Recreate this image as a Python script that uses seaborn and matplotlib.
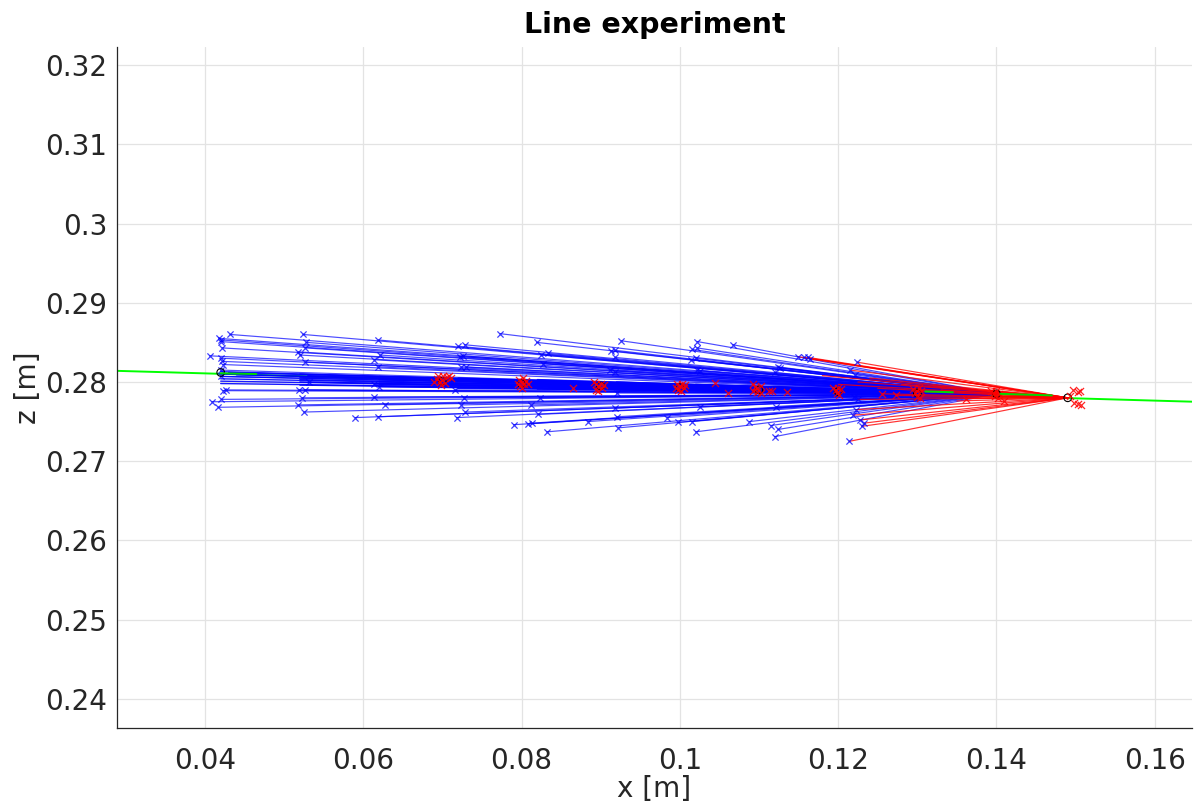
import numpy as np
import pandas as pd
import matplotlib
matplotlib.use("Agg")
import matplotlib.pyplot as plt
import seaborn as sns

# ---------------- data ----------------
# reference line (green)
line_x = [0.029, 0.165]
line_z = [0.2814, 0.2775]

# blue start points (x marker), each joined to the blue end point
blue_start_x = [0.0432, 0.0418, 0.0421, 0.0420, 0.0422, 0.0406, 0.0420, 0.0422, 0.0423, 0.0420, 0.0421, 0.0423, 0.0427, 0.0421, 0.0409, 0.0417,
                0.0524, 0.0528, 0.0527, 0.0518, 0.0520, 0.0527, 0.0531, 0.0519, 0.0526, 0.0523, 0.0518, 0.0525,
                0.0619, 0.0621, 0.0614, 0.0619, 0.0614, 0.0620, 0.0614, 0.0628, 0.0619, 0.0590,
                0.0720, 0.0728, 0.0722, 0.0726, 0.0724, 0.0730, 0.0716, 0.0727, 0.0724, 0.0729, 0.0718,
                0.0773, 0.0819, 0.0825, 0.0834, 0.0827, 0.0823, 0.0812, 0.0821, 0.0790, 0.0808, 0.0813, 0.0832,
                0.0926, 0.0913, 0.0918, 0.0918, 0.0912, 0.0918, 0.0920, 0.0918, 0.0920, 0.0884, 0.0922,
                0.1022, 0.1067, 0.1016, 0.1022, 0.1014, 0.1020, 0.1022, 0.1026, 0.1026, 0.0984, 0.0998, 0.1016, 0.1020, 0.1088,
                0.1124, 0.1120, 0.1126, 0.1122, 0.1124, 0.1120, 0.1115, 0.1221, 0.1220]
blue_start_z = [0.2860, 0.2855, 0.2853, 0.2851, 0.2843, 0.2833, 0.2830, 0.2826, 0.2822, 0.2815, 0.2807, 0.2789, 0.2790, 0.2778, 0.2775, 0.2768,
                0.2860, 0.2850, 0.2843, 0.2838, 0.2834, 0.2825, 0.2800, 0.2790, 0.2790, 0.2780, 0.2771, 0.2762,
                0.2853, 0.2834, 0.2828, 0.2819, 0.2797, 0.2794, 0.2781, 0.2771, 0.2756, 0.2755,
                0.2845, 0.2847, 0.2832, 0.2833, 0.2819, 0.2819, 0.2790, 0.2780, 0.2771, 0.2762, 0.2755,
                0.2861, 0.2850, 0.2834, 0.2836, 0.2823, 0.2780, 0.2771, 0.2759, 0.2746, 0.2747, 0.2748, 0.2737,
                0.2852, 0.2839, 0.2840, 0.2831, 0.2815, 0.2812, 0.2786, 0.2767, 0.2756, 0.2750, 0.2742,
                0.2851, 0.2847, 0.2841, 0.2843, 0.2828, 0.2830, 0.2815, 0.2814, 0.2769, 0.2755, 0.2749, 0.2750, 0.2737, 0.2750,
                0.2819, 0.2812, 0.2818, 0.2769, 0.2740, 0.2731, 0.2745, 0.2809, 0.2781]

# blue start points lying near the reference line (dense core bundle)
core_start_x = [0.042, 0.042, 0.042, 0.042, 0.042, 0.042, 0.043, 0.044,
                0.052, 0.052, 0.052, 0.052, 0.052, 0.053,
                0.062, 0.062, 0.062, 0.062, 0.062,
                0.072, 0.072, 0.072, 0.072, 0.072,
                0.082, 0.082, 0.082, 0.082,
                0.092, 0.092, 0.092, 0.092,
                0.102, 0.102, 0.102,
                0.112, 0.112, 0.112,
                0.122, 0.122]
core_start_z = [0.2813, 0.2810, 0.2807, 0.2804, 0.2801, 0.2798, 0.2812, 0.2809,
                0.2810, 0.2806, 0.2803, 0.2800, 0.2796, 0.2808,
                0.2807, 0.2803, 0.2800, 0.2797, 0.2794,
                0.2805, 0.2801, 0.2798, 0.2795, 0.2792,
                0.2803, 0.2799, 0.2795, 0.2791,
                0.2800, 0.2796, 0.2793, 0.2790,
                0.2797, 0.2793, 0.2789,
                0.2794, 0.2791, 0.2788,
                0.2791, 0.2788]
blue_end = (0.1400, 0.2785)

# red segments (start points are blue markers, end point shared)
red_start_x = [0.1149, 0.1157, 0.1162, 0.1165, 0.1224, 0.1222, 0.1219, 0.1228, 0.1233, 0.1214,
               0.1215, 0.1225, 0.1230,
               0.1225, 0.1240, 0.1256, 0.1273, 0.1300, 0.1304, 0.1320, 0.1395, 0.1400, 0.1360,
               0.1180, 0.1200, 0.1250, 0.1280, 0.1330, 0.1350]
red_start_z = [0.2832, 0.2831, 0.2831, 0.2829, 0.2825, 0.2765, 0.2758, 0.2752, 0.2748, 0.2725,
               0.2815, 0.2778, 0.2744,
               0.2800, 0.2805, 0.2785, 0.2783, 0.2788, 0.2781, 0.2795, 0.2786, 0.2782, 0.2779,
               0.2808, 0.2797, 0.2792, 0.2797, 0.2790, 0.2776]
red_marked = 13  # first red starts carry a blue start marker
red_end = (0.1490, 0.2780)

# red end markers (clusters around each waypoint)
red_pts_x = [0.0693, 0.0697, 0.0700, 0.0703, 0.0706, 0.0709, 0.0698, 0.0690, 0.0701, 0.0711, 0.0695,
             0.0797, 0.0800, 0.0803, 0.0795, 0.0802, 0.0806, 0.0801, 0.0798, 0.0808,
             0.0891, 0.0894, 0.0897, 0.0900, 0.0904, 0.0894, 0.0896, 0.0902, 0.0865,
             0.0997, 0.1000, 0.1003, 0.0995, 0.1005, 0.1001, 0.0998, 0.1007, 0.1044,
             0.1092, 0.1095, 0.1098, 0.1102, 0.1093, 0.1097, 0.1103, 0.1061, 0.1117,
             0.1194, 0.1197, 0.1200, 0.1203, 0.1198, 0.1201, 0.1135, 0.1113,
             0.1295, 0.1299, 0.1302, 0.1305, 0.1297, 0.1300, 0.1304, 0.1256, 0.1273,
             0.1393, 0.1397, 0.1400, 0.1403, 0.1398, 0.1402, 0.1362, 0.1409,
             0.1497, 0.1503, 0.1505, 0.1498, 0.1503, 0.1507, 0.1493]
red_pts_z = [0.2804, 0.2800, 0.2803, 0.2799, 0.2806, 0.2808, 0.2796, 0.2800, 0.2808, 0.2805, 0.2808,
             0.2803, 0.2800, 0.2797, 0.2798, 0.2805, 0.2801, 0.2793, 0.2795, 0.2797,
             0.2800, 0.2797, 0.2795, 0.2798, 0.2796, 0.2790, 0.2788, 0.2792, 0.2792,
             0.2798, 0.2795, 0.2797, 0.2793, 0.2792, 0.2789, 0.2790, 0.2796, 0.2799,
             0.2797, 0.2794, 0.2792, 0.2795, 0.2788, 0.2787, 0.2786, 0.2786, 0.2789,
             0.2792, 0.2790, 0.2793, 0.2791, 0.2786, 0.2784, 0.2787, 0.2788,
             0.2791, 0.2788, 0.2792, 0.2789, 0.2786, 0.2781, 0.2780, 0.2785, 0.2783,
             0.2789, 0.2786, 0.2788, 0.2785, 0.2782, 0.2780, 0.2779, 0.2776,
             0.2790, 0.2787, 0.2789, 0.2774, 0.2772, 0.2771, 0.2782]

# waypoints (black circles)
wp_x = [0.042, 0.070, 0.080, 0.090, 0.100, 0.110, 0.120, 0.130, 0.140, 0.149]
wp_z = [0.2812, 0.2801, 0.2798, 0.2795, 0.2793, 0.2790, 0.2788, 0.2786, 0.2785, 0.2780]

# green overlay pieces drawn on top
green_top_x = [[0.0420, 0.0465], [0.1310, 0.1345], [0.1405, 0.1470]]
green_top_z = [[0.2811, 0.2810], [0.2788, 0.2787], [0.2785, 0.2783]]

xticks = [0.04, 0.06, 0.08, 0.10, 0.12, 0.14, 0.16]
xtick_labels = ["0.04", "0.06", "0.08", "0.1", "0.12", "0.14", "0.16"]
yticks = [0.24, 0.25, 0.26, 0.27, 0.28, 0.29, 0.30, 0.31, 0.32]
ytick_labels = ["0.24", "0.25", "0.26", "0.27", "0.28", "0.29", "0.3", "0.31", "0.32"]


def segments(xs, zs, end):
    rows = []
    for i, (x0, z0) in enumerate(zip(xs, zs)):
        rows.append({"seg": i, "order": 0, "x": x0, "z": z0})
        rows.append({"seg": i, "order": 1, "x": end[0], "z": end[1]})
    return pd.DataFrame(rows)


sns.set_theme(style="whitegrid")
plt.rcParams["font.family"] = ["DejaVu Sans"]

fig = plt.figure(figsize=(11.99, 8.08), dpi=100)
ax = fig.add_axes([117 / 1199, 1 - 728 / 808, (1192 - 117) / 1199, (728 - 47) / 808])

# green reference line
sns.lineplot(x=line_x, y=line_z, ax=ax, color=(0, 1, 0), lw=1.4, zorder=1, legend=False)

# blue segments
df_core = segments(core_start_x, core_start_z, blue_end)
sns.lineplot(data=df_core, x="x", y="z", units="seg", estimator=None, sort=False,
             ax=ax, color="blue", lw=1.0, alpha=0.9, zorder=2, legend=False)
df_blue = segments(blue_start_x, blue_start_z, blue_end)
sns.lineplot(data=df_blue, x="x", y="z", units="seg", estimator=None, sort=False,
             ax=ax, color="blue", lw=0.85, alpha=0.7, zorder=2, legend=False)
sns.scatterplot(x=blue_start_x, y=blue_start_z, ax=ax, marker="x", color="blue",
                s=20, linewidth=0.9, alpha=0.75, zorder=3, legend=False)

# red segments
df_red = segments(red_start_x, red_start_z, red_end)
sns.lineplot(data=df_red, x="x", y="z", units="seg", estimator=None, sort=False,
             ax=ax, color="red", lw=0.85, alpha=0.8, zorder=4, legend=False)
sns.scatterplot(x=red_start_x[:red_marked], y=red_start_z[:red_marked], ax=ax, marker="x", color="blue",
                s=20, linewidth=0.9, alpha=0.75, zorder=5, legend=False)

# waypoint circles
sns.scatterplot(x=wp_x, y=wp_z, ax=ax, marker="o", s=30, facecolor="none",
                edgecolor="black", linewidth=0.8, zorder=5, legend=False)

# red end markers
sns.scatterplot(x=red_pts_x, y=red_pts_z, ax=ax, marker="x", color="red",
                s=26, linewidth=0.9, alpha=0.85, zorder=6, legend=False)

# green pieces on top
for gx, gz in zip(green_top_x, green_top_z):
    sns.lineplot(x=gx, y=gz, ax=ax, color=(0, 0.85, 0), lw=1.4, zorder=7, legend=False)

ax.set_xlim(0.0289, 0.1647)
ax.set_ylim(0.2363, 0.3223)
ax.set_xticks(xticks)
ax.set_xticklabels(xtick_labels)
ax.set_yticks(yticks)
ax.set_yticklabels(ytick_labels)

ax.set_facecolor("white")
ax.grid(True, color="#e3e3e3", lw=0.9)
for side in ["top", "right"]:
    ax.spines[side].set_visible(False)
for side in ["left", "bottom"]:
    ax.spines[side].set_visible(True)
    ax.spines[side].set_color("#262626")
    ax.spines[side].set_linewidth(0.9)
ax.tick_params(axis="both", direction="in", length=8, width=0.8, color="#262626",
               labelsize=20, labelcolor="#262626")
ax.tick_params(axis="x", pad=14)
ax.tick_params(axis="y", pad=7)

ax.set_xlabel("x [m]", fontsize=20, color="#262626", labelpad=0)
ax.set_ylabel("z [m]", fontsize=20, color="#262626", labelpad=2)
ax.set_title("Line experiment", fontsize=20.5, fontweight="bold", color="black", pad=10)

fig.savefig("out.png", dpi=100, facecolor="white")
